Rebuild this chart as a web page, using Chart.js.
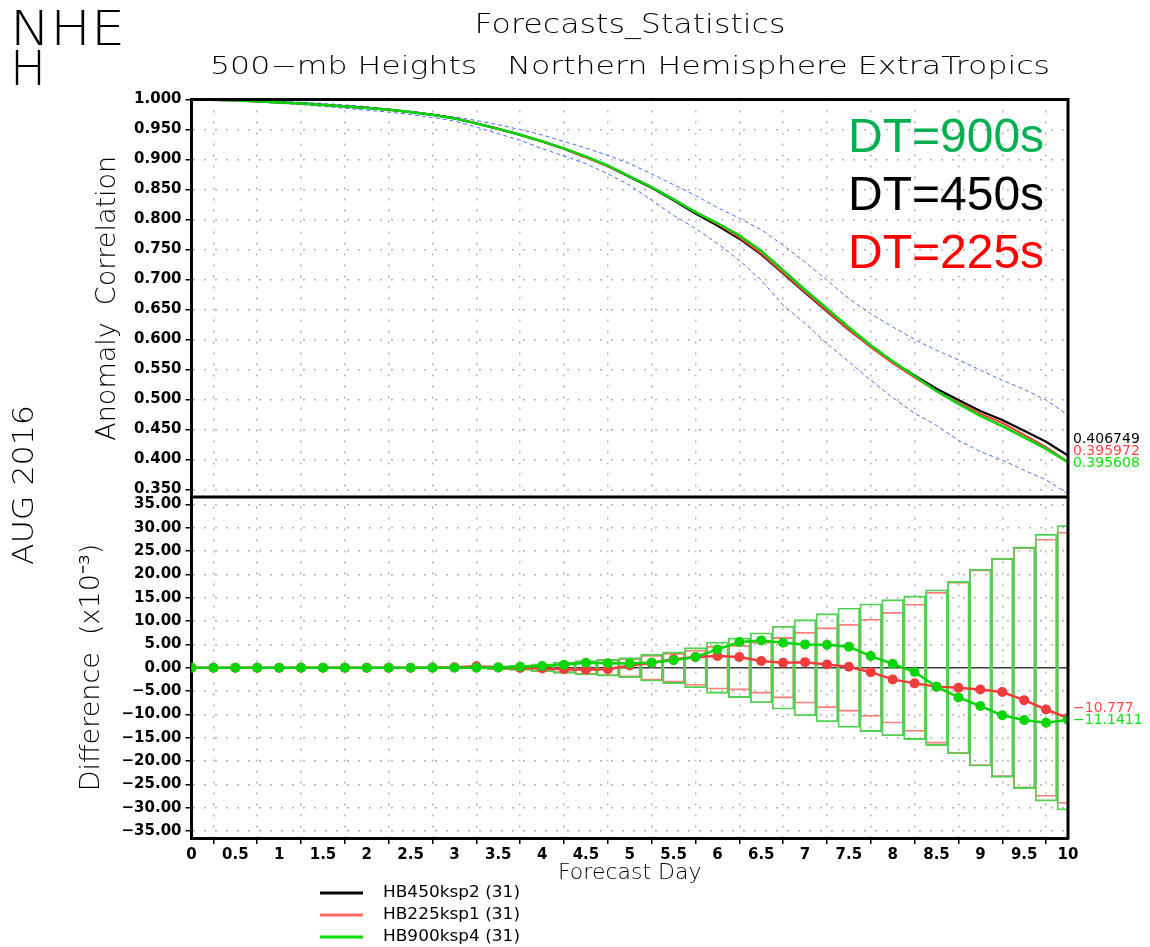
<!DOCTYPE html>
<html>
<head>
<meta charset="utf-8">
<title>Forecasts_Statistics</title>
<script src="https://cdn.jsdelivr.net/npm/chart.js@4.4.1/dist/chart.umd.min.js"></script>
<style>
  html, body { margin: 0; padding: 0; background: #fff; }
  #wrap { width: 1150px; height: 947px; }
</style>
</head>
<body>
<div id="wrap"><canvas id="c" width="1150" height="947"></canvas></div>
<script>
// forecast lead time (days), every 6 h
const days = [0, 0.25, 0.5, 0.75, 1, 1.25, 1.5, 1.75, 2, 2.25, 2.5, 2.75, 3, 3.25, 3.5, 3.75, 4, 4.25, 4.5, 4.75,
  5, 5.25, 5.5, 5.75, 6, 6.25, 6.5, 6.75, 7, 7.25, 7.5, 7.75, 8, 8.25, 8.5, 8.75, 9, 9.25, 9.5, 9.75, 10];

// 500-mb height anomaly correlation, NH extratropics
const acHB450 = [1.0000, 0.9995, 0.9985, 0.9970, 0.9950, 0.9935, 0.9910, 0.9885, 0.9860, 0.9830,
  0.9790, 0.9745, 0.9685, 0.9600, 0.9510, 0.9410, 0.9300, 0.9180, 0.9040, 0.8890,
  0.8710, 0.8530, 0.8320, 0.8100, 0.7900, 0.7680, 0.7420, 0.7100, 0.6780, 0.6470,
  0.6160, 0.5880, 0.5630, 0.5400, 0.5180, 0.4990, 0.4810, 0.4660, 0.4480, 0.4295, 0.406749];
const acHB225 = [1.0000, 0.9995, 0.9985, 0.9970, 0.9950, 0.9935, 0.9910, 0.9885, 0.9860, 0.9830,
  0.9790, 0.9746, 0.9686, 0.9603, 0.9511, 0.9410, 0.9299, 0.9177, 0.9036, 0.8887,
  0.8715, 0.8540, 0.8338, 0.8123, 0.7925, 0.7703, 0.7435, 0.7111, 0.6792, 0.6477,
  0.6162, 0.5871, 0.5605, 0.5367, 0.5140, 0.4947, 0.4764, 0.4608, 0.4411, 0.4206, 0.395972];
const acHB900 = [1.0000, 0.9995, 0.9985, 0.9970, 0.9950, 0.9935, 0.9910, 0.9885, 0.9860, 0.9830,
  0.9790, 0.9745, 0.9685, 0.9600, 0.9511, 0.9412, 0.9304, 0.9186, 0.9051, 0.8900,
  0.8719, 0.8541, 0.8336, 0.8123, 0.7939, 0.7735, 0.7479, 0.7154, 0.6830, 0.6519,
  0.6205, 0.5905, 0.5639, 0.5391, 0.5139, 0.4926, 0.4728, 0.4558, 0.4368, 0.4177, 0.395608];
// HB450 confidence band (dashed blue)
const acUpper = [1.0000, 0.9998, 0.9993, 0.9983, 0.9970, 0.9955, 0.9935, 0.9910, 0.9880, 0.9840,
  0.9800, 0.9760, 0.9710, 0.9650, 0.9580, 0.9500, 0.9410, 0.9300, 0.9190, 0.9070,
  0.8930, 0.8760, 0.8580, 0.8400, 0.8200, 0.8020, 0.7830, 0.7570, 0.7290, 0.6990,
  0.6680, 0.6430, 0.6210, 0.6000, 0.5820, 0.5660, 0.5490, 0.5320, 0.5170, 0.4990, 0.4740];
const acLower = [1.0000, 0.9992, 0.9977, 0.9958, 0.9935, 0.9915, 0.9885, 0.9855, 0.9820, 0.9790,
  0.9750, 0.9700, 0.9640, 0.9540, 0.9430, 0.9320, 0.9180, 0.9060, 0.8930, 0.8760,
  0.8570, 0.8320, 0.8070, 0.7850, 0.7600, 0.7320, 0.6990, 0.6570, 0.6270, 0.5930,
  0.5630, 0.5320, 0.5030, 0.4770, 0.4570, 0.4320, 0.4130, 0.3990, 0.3820, 0.3660, 0.3430];

// difference from HB450 (x10^-3)
const diffHB225 = [0, 0, 0, 0, 0, 0, 0, 0, 0, 0,
  0, 0.05, 0.1, 0.3, 0.05, -0.05, -0.15, -0.3, -0.45, -0.3,
  0.5, 1.0, 1.8, 2.3, 2.5, 2.3, 1.45, 1.05, 1.2, 0.7,
  0.2, -0.95, -2.5, -3.35, -4.05, -4.3, -4.65, -5.2, -6.95, -8.95, -10.777];
const diffHB900 = [0, 0, 0, 0, 0, 0, 0, 0, 0, 0,
  0, 0, 0, 0, 0.07, 0.2, 0.36, 0.64, 1.07, 0.97,
  0.93, 1.1, 1.6, 2.3, 3.93, 5.5, 5.86, 5.36, 5.0, 4.93,
  4.5, 2.5, 0.86, -0.93, -4.07, -6.36, -8.21, -10.2, -11.2, -11.8, -11.1411];
// significance box half-heights (x10^-3)
const sigHB225 = [0, 0.01, 0.02, 0.02, 0.03, 0.03, 0.04, 0.05, 0.06, 0.08,
  0.1, 0.12, 0.17, 0.25, 0.38, 0.52, 0.8, 1.1, 1.45, 1.7,
  2.0, 2.7, 3.1, 3.8, 4.6, 4.8, 5.5, 6.5, 7.6, 8.6,
  9.35, 10.45, 11.9, 13.65, 16.2, 18.4, 21.0, 23.4, 25.8, 27.6, 29.1];
const sigHB900 = [0, 0.01, 0.02, 0.02, 0.03, 0.03, 0.04, 0.05, 0.06, 0.08,
  0.1, 0.13, 0.18, 0.26, 0.4, 0.55, 0.85, 1.2, 1.55, 1.8,
  2.15, 2.9, 3.4, 4.3, 5.5, 6.4, 7.5, 8.9, 10.3, 11.6,
  12.8, 13.7, 14.6, 15.4, 16.7, 18.5, 21.1, 23.5, 25.9, 28.6, 30.5];

const acTicks = [0.35, 0.40, 0.45, 0.50, 0.55, 0.60, 0.65, 0.70, 0.75, 0.80, 0.85, 0.90, 0.95, 1.00];
const diffTicks = [-35, -30, -25, -20, -15, -10, -5, 0, 5, 10, 15, 20, 25, 30, 35];
const dayTicks = [0, 0.5, 1, 1.5, 2, 2.5, 3, 3.5, 4, 4.5, 5, 5.5, 6, 6.5, 7, 7.5, 8, 8.5, 9, 9.5, 10];

const runNames = ['HB450ksp2 (31)', 'HB225ksp1 (31)', 'HB900ksp4 (31)'];
const stepLabels = ['DT=900s', 'DT=450s', 'DT=225s'];

const BLACK = '#000000', RED = '#f23c3c', GREEN = '#0ad40a', BLUE = '#4f70ff';
const THIN = '"DejaVu Sans"';

const pts = arr => arr.map((v, i) => ({ x: days[i], y: v }));
const boxes = arr => arr.map((v, i) => ({ x: days[i], y: [-v, v] }));
const minus = v => (v < 0 ? '\u2212' : '') + Math.abs(v);

// text stretched to a given width
function fitText(ctx, text, x, y, width, align) {
  ctx.save();
  ctx.textAlign = align;
  const w = ctx.measureText(text).width;
  ctx.translate(x, y);
  ctx.scale(width / w, 1);
  ctx.fillText(text, 0, 0);
  ctx.restore();
}

// last-value labels at the right edge, stacked upward from the lowest one
function endLabels(chart, axisId, items) {
  const { ctx } = chart;
  const ys = chart.scales[axisId];
  const x = chart.chartArea.right + 5;
  const sorted = items.slice().sort((a, b) => a.value - b.value);
  let y = ys.getPixelForValue(sorted[0].value) + 1;
  ctx.save();
  ctx.font = '14px ' + THIN;
  ctx.textBaseline = 'middle';
  ctx.textAlign = 'left';
  sorted.forEach(it => {
    ctx.fillStyle = it.color;
    ctx.fillText(it.text, x, y);
    y -= 12;
  });
  ctx.restore();
}

const framePlugin = {
  id: 'frame',
  afterDatasetsDraw(chart) {
    const { ctx, chartArea: a } = chart;
    const split = chart.scales.yAC.bottom;
    ctx.save();
    ctx.strokeStyle = '#000';
    ctx.lineWidth = 3;
    ctx.beginPath();
    ctx.moveTo(a.left - 1.5, a.top);
    ctx.lineTo(a.right, a.top);
    ctx.lineTo(a.right, a.bottom + 1.5);
    ctx.moveTo(a.left, split);
    ctx.lineTo(a.right, split);
    ctx.stroke();
    ctx.restore();
  }
};

const decorPlugin = {
  id: 'decor',
  afterDraw(chart) {
    const { ctx } = chart;
    const n = days.length - 1;
    ctx.save();
    ctx.fillStyle = '#000';
    ctx.textBaseline = 'alphabetic';

    ctx.font = '200 48px ' + THIN;
    fitText(ctx, 'NHE', 10, 45, 115, 'left');
    ctx.fillText('H', 10, 85);

    ctx.font = '200 26px ' + THIN;
    fitText(ctx, 'Forecasts_Statistics', 630, 33, 311, 'center');
    ctx.font = '200 24px ' + THIN;
    fitText(ctx, '500\u2212mb Heights   Northern Hemisphere ExtraTropics', 630, 74, 840, 'center');

    ctx.save();
    ctx.translate(33, 485);
    ctx.rotate(-Math.PI / 2);
    ctx.font = '200 29px ' + THIN;
    fitText(ctx, 'AUG 2016', 0, 0, 160, 'center');
    ctx.restore();

    ctx.font = '48px "Liberation Sans"';
    ctx.textAlign = 'left';
    [['#00b050', 152], [BLACK, 210], ['#ff0000', 268]].forEach(([c, y], i) => {
      ctx.fillStyle = c;
      ctx.fillText(stepLabels[i], 848, y);
    });

    // legend
    ctx.font = '15px ' + THIN;
    ctx.textBaseline = 'middle';
    [[BLACK, 893], ['#ff6a6a', 915], ['#00dd00', 937]].forEach(([c, y], i) => {
      ctx.strokeStyle = c;
      ctx.lineWidth = 3;
      ctx.beginPath();
      ctx.moveTo(320, y);
      ctx.lineTo(363, y);
      ctx.stroke();
      ctx.fillStyle = '#000';
      fitText(ctx, runNames[i], 383, y, 137, 'left');
    });
    ctx.restore();

    endLabels(chart, 'yAC', [
      { value: acHB450[n], text: String(acHB450[n]), color: BLACK },
      { value: acHB225[n], text: String(acHB225[n]), color: '#ff4848' },
      { value: acHB900[n], text: String(acHB900[n]), color: '#12e012' }
    ]);
    endLabels(chart, 'yDiff', [
      { value: diffHB225[n], text: minus(diffHB225[n]), color: '#ff4848' },
      { value: diffHB900[n], text: minus(diffHB900[n]), color: '#12e012' }
    ]);
  }
};

Chart.defaults.font.family = THIN;
Chart.defaults.color = '#000';

const tickFont = { family: THIN, size: 15, weight: 'bold' };
const gridDash = ctx => (ctx.tick && ctx.tick.value === 0 ? [] : [2, 9]);

new Chart(document.getElementById('c'), {
  type: 'line',
  data: {
    datasets: [
      { label: 'HB900 diff', data: pts(diffHB900), yAxisID: 'yDiff', borderColor: GREEN, backgroundColor: GREEN,
        borderWidth: 2.5, pointRadius: 5, pointBorderWidth: 0, pointBackgroundColor: GREEN },
      { label: 'HB225 diff', data: pts(diffHB225), yAxisID: 'yDiff', borderColor: RED, backgroundColor: RED,
        borderWidth: 2.5, pointRadius: 5, pointBorderWidth: 0, pointBackgroundColor: RED },
      { type: 'bar', label: 'HB900 sig', data: boxes(sigHB900), yAxisID: 'yDiff', grouped: false,
        backgroundColor: 'rgba(0,0,0,0)', borderColor: '#52d052', borderWidth: 1.2, borderSkipped: false,
        barPercentage: 1, categoryPercentage: 1 },
      { type: 'bar', label: 'HB225 sig', data: boxes(sigHB225), yAxisID: 'yDiff', grouped: false,
        backgroundColor: 'rgba(0,0,0,0)', borderColor: '#ff7c7c', borderWidth: 1.2, borderSkipped: false,
        barPercentage: 1, categoryPercentage: 1 },
      { label: runNames[2], data: pts(acHB900), yAxisID: 'yAC', borderColor: GREEN, borderWidth: 2.5, pointRadius: 0 },
      { label: runNames[1], data: pts(acHB225), yAxisID: 'yAC', borderColor: RED, borderWidth: 2, pointRadius: 0 },
      { label: runNames[0], data: pts(acHB450), yAxisID: 'yAC', borderColor: BLACK, borderWidth: 2.2, pointRadius: 0 },
      { label: 'upper', data: pts(acUpper), yAxisID: 'yAC', borderColor: BLUE, borderWidth: 1, borderDash: [4, 3], pointRadius: 0 },
      { label: 'lower', data: pts(acLower), yAxisID: 'yAC', borderColor: BLUE, borderWidth: 1, borderDash: [4, 3], pointRadius: 0 }
    ]
  },
  options: {
    responsive: false,
    animation: false,
    events: [],
    layout: { padding: { left: 40, right: 82, top: 99.5, bottom: 49 } },
    plugins: { legend: { display: false }, tooltip: { enabled: false } },
    elements: { line: { tension: 0 } },
    scales: {
      x: {
        type: 'linear', min: 0, max: 10, offset: false,
        afterBuildTicks: s => { s.ticks = dayTicks.map(v => ({ value: v })); },
        afterFit: s => { s.height = 60; },
        ticks: { font: tickFont, maxRotation: 0, autoSkip: false, padding: 2, callback: v => String(v) },
        grid: { color: '#b4b4b4', lineWidth: 1.5, tickColor: '#000', tickLength: 6, tickWidth: 1.5 },
        border: { color: '#000', width: 3, dash: [2, 9] },
        title: { display: true, text: 'Forecast Day', font: { family: THIN, size: 22, weight: '200' }, padding: { top: 0, bottom: 12 } }
      },
      yDiff: {
        type: 'linear', position: 'left', stack: 'panels', stackWeight: 341,
        min: -36.5, max: 36.6,
        afterBuildTicks: s => { s.ticks = diffTicks.map(v => ({ value: v })); },
        afterFit: s => { s.width = 151.5; },
        ticks: { font: tickFont, autoSkip: false, padding: 4, callback: v => (v < 0 ? '\u2212' : '') + Math.abs(v).toFixed(2) },
        grid: {
          color: c => (c.tick && c.tick.value === 0 ? '#3c3c3c' : '#b4b4b4'),
          lineWidth: 1.5, tickColor: '#000', tickLength: 6, tickWidth: 1.5
        },
        border: { color: '#000', width: 3, dash: gridDash },
        title: { display: true, text: 'Difference  (x10\u207B\u00B3)', font: { family: THIN, size: 27, weight: '200' }, padding: { top: 36, bottom: 0 } }
      },
      yAC: {
        type: 'linear', position: 'left', stack: 'panels', stackWeight: 397.5,
        min: 0.3375, max: 1.0,
        afterBuildTicks: s => { s.ticks = acTicks.map(v => ({ value: v })); },
        afterFit: s => { s.width = 151.5; },
        ticks: { font: tickFont, autoSkip: false, padding: 4, callback: v => Number(v).toFixed(3) },
        grid: { color: '#b4b4b4', lineWidth: 1.5, tickColor: '#000', tickLength: 6, tickWidth: 1.5 },
        border: { color: '#000', width: 3, dash: [2, 9] },
        title: { display: true, text: 'Anomaly  Correlation', font: { family: THIN, size: 27, weight: '200' }, padding: { top: 52, bottom: 0 } }
      }
    }
  },
  plugins: [framePlugin, decorPlugin]
});
</script>
</body>
</html>
